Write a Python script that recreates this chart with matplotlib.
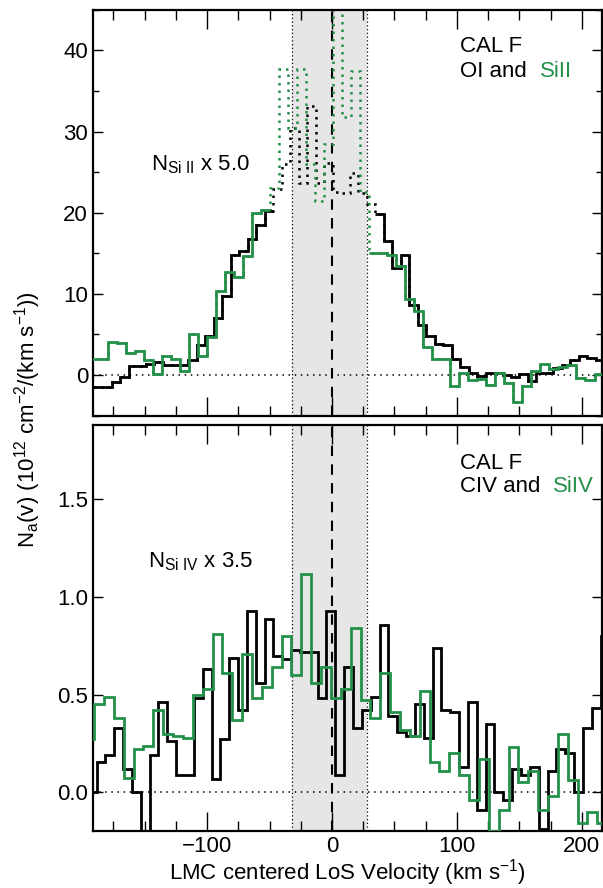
import numpy as np
import matplotlib
matplotlib.use("Agg")
import matplotlib.pyplot as plt
from matplotlib.ticker import MultipleLocator

plt.rcParams["font.family"] = ["Liberation Sans", "DejaVu Sans"]
plt.rcParams["mathtext.fontset"] = "custom"
plt.rcParams["mathtext.rm"] = "Liberation Sans"
plt.rcParams["mathtext.it"] = "Liberation Sans:italic"
plt.rcParams["font.size"] = 16

GREEN = "#23904a"

# === top panel: OI (black) and SiII x 5.0 (green) ===
oi_start, oi_dv = -196.7, 6.8
oi_vals = [-1.5, -1.5, -1.5, -0.9, -0.2, 1.1, 1.1, 1.4, 1.6, 1.2,
           1.2, 1.2, 1.8, 3.7, 4.8, 7.0, 9.7, 14.8, 15.3, 16.8,
           18.5, 20.2, 22.9, 26.0, 30.4, 23.6, 33.1, 23.6, 26.1, 22.5,
           22.4, 24.9, 22.4, 21.1, 19.8, 16.5, 13.2, 14.8, 8.6, 6.2,
           4.8, 3.8, 3.7, 2.0, 1.0, 0.3, -0.1, 0.2, 0.2, 0.0,
           -0.3, 0.1, -0.8, 0.2, 0.3, 0.9, 1.2, 1.8, 2.4, 2.1, 1.8]
oi_sat = (22, 34)   # bins drawn dotted only

siii_start, siii_dv = -193.6, 7.21
siii_vals = [2.0, 2.0, 4.1, 3.9, 2.7, 2.9, 1.9, 0.1, 2.3, 2.0,
             0.5, 5.0, 2.3, 4.7, 10.4, 12.7, 12.1, 14.7, 20.0, 20.3,
             23.0, 37.7, 30.4, 37.7, 26.0, 21.5, 28.5, 47.0, 31.8, 37.5,
             22.5, 15.0, 15.0, 14.8, 13.4, 9.4, 7.9, 3.4, 2.0, 2.0,
             -1.4, 0.2, -0.6, -0.5, -1.2, 0.2, -1.0, -3.3, -1.4, 0.5,
             1.4, 0.8, 1.0, 1.2, -0.4, -0.6, 0.1]
siii_sat = (20, 31)

# === bottom panel: CIV (black) and SiIV x 3.5 (green) ===
civ_start, civ_dv = -195.6, 7.08
civ_vals = [0.0, 0.155, 0.19, 0.33, 0.12, 0.0, -0.2, 0.19, 0.46, 0.26,
            0.087, 0.09, 0.48, 0.63, 0.065, 0.27, 0.69, 0.42, 0.93, 0.56,
            0.89, 0.70, 0.68, 0.73, 0.72, 0.72, 0.48, 0.93, 0.087, 0.64,
            0.33, 0.42, 0.49, 0.855, 0.39, 0.31, 0.29, 0.45, 0.28, 0.74,
            0.42, 0.41, 0.13, 0.46, -0.09, 0.35, 0.0, -0.04, 0.12, 0.09,
            0.13, -0.19, 0.11, 0.22, 0.20, 0.0, 0.33, 0.43, 0.80]

siiv_start, siiv_dv = -198.4, 7.9
siiv_vals = [0.27, 0.45, 0.49, 0.38, 0.07, 0.22, 0.235, 0.42, 0.30, 0.29,
             0.28, 0.50, 0.53, 0.81, 0.61, 0.37, 0.71, 0.48, 0.54, 0.64,
             0.80, 0.60, 1.12, 0.56, 0.64, 0.48, 0.53, 0.84, 0.47, 0.38,
             0.61, 0.41, 0.32, 0.29, 0.52, 0.155, 0.11, 0.20, 0.09, -0.04,
             0.17, -0.2, -0.09, 0.23, 0.05, 0.11, -0.09, -0.02, 0.30, 0.06,
             -0.16, -0.1, -0.16]

XLIM = (-191.5, 216)
SAT_LO, SAT_HI = -32, 28


def edges(start, dv, n):
    return start + dv * np.arange(n + 1)


def stairs(ax, start, dv, vals, color, sat=None):
    v = np.array(vals)
    e = edges(start, dv, len(v))
    if sat is None:
        ax.stairs(v, e, baseline=None, color=color, lw=2.0, zorder=3)
        return
    # whole profile dotted, unsaturated wings solid on top
    ax.stairs(v, e, baseline=None, color=color, lw=1.8, ls=(0, (1, 2)), zorder=2)
    a, b = sat
    ax.stairs(v[:a], e[:a + 1], baseline=None, color=color, lw=2.0, zorder=3)
    ax.stairs(v[b:], e[b:], baseline=None, color=color, lw=2.0, zorder=3)


def decorate(ax):
    ax.axvspan(SAT_LO, SAT_HI, color="#e6e6e6", lw=0, zorder=0)
    for x in (SAT_LO, SAT_HI):
        ax.axvline(x, color="k", ls=(0, (1, 2)), lw=0.9, zorder=1)
    ax.axvline(0, color="k", ls=(0, (5, 4)), lw=1.5, zorder=1)
    ax.axhline(0, color="k", ls=(0, (1, 3)), lw=1.1, zorder=1)
    ax.set_xlim(*XLIM)
    ax.xaxis.set_major_locator(MultipleLocator(100))
    ax.xaxis.set_minor_locator(MultipleLocator(25))
    ax.tick_params(which="both", direction="in", top=True, right=True, width=1.0)
    ax.tick_params(axis="x", which="major", length=14)
    ax.tick_params(axis="x", which="minor", length=7)
    ax.tick_params(axis="y", which="major", length=7)
    ax.tick_params(axis="y", which="minor", length=4)
    for s in ax.spines.values():
        s.set_linewidth(1.6)


fig = plt.figure(figsize=(6.03, 8.88), dpi=100)
ax1 = fig.add_axes([0.154, 0.532, 0.844, 0.457])
ax2 = fig.add_axes([0.154, 0.064, 0.844, 0.457])

decorate(ax1)
stairs(ax1, oi_start, oi_dv, oi_vals, "k", oi_sat)
stairs(ax1, siii_start, siii_dv, siii_vals, GREEN, siii_sat)
ax1.set_ylim(-5, 45)
ax1.yaxis.set_major_locator(MultipleLocator(10))
ax1.yaxis.set_minor_locator(MultipleLocator(5))
ax1.tick_params(axis="x", labelbottom=False)

decorate(ax2)
stairs(ax2, civ_start, civ_dv, civ_vals, "k")
stairs(ax2, siiv_start, siiv_dv, siiv_vals, GREEN)
ax2.set_ylim(-0.2, 1.88)
ax2.yaxis.set_major_locator(MultipleLocator(0.5))
ax2.yaxis.set_major_formatter(matplotlib.ticker.FormatStrFormatter("%.1f"))

# labels inside the panels
ax1.text(0.722, 0.909, "CAL F", transform=ax1.transAxes, va="center")
ax1.text(0.722, 0.847, "OI and", transform=ax1.transAxes, va="center")
ax1.text(0.878, 0.847, "SiII", transform=ax1.transAxes, va="center", color=GREEN)
ax1.text(0.115, 0.618, r"N$_{\rm Si\ II}$ x 5.0", transform=ax1.transAxes, va="center")

ax2.text(0.722, 0.906, "CAL F", transform=ax2.transAxes, va="center")
ax2.text(0.722, 0.850, "CIV and", transform=ax2.transAxes, va="center")
ax2.text(0.904, 0.850, "SiIV", transform=ax2.transAxes, va="center", color=GREEN)
ax2.text(0.109, 0.663, r"N$_{\rm Si\ IV}$ x 3.5", transform=ax2.transAxes, va="center")

ax2.set_xlabel(r"LMC centered LoS Velocity (km s$^{-1}$)", labelpad=0)
fig.text(0.045, 0.527, r"N$_{\rm a}$(v) (10$^{12}$ cm$^{-2}$/(km s$^{-1}$))",
         rotation=90, ha="center", va="center")

fig.savefig("out.png", dpi=100)
